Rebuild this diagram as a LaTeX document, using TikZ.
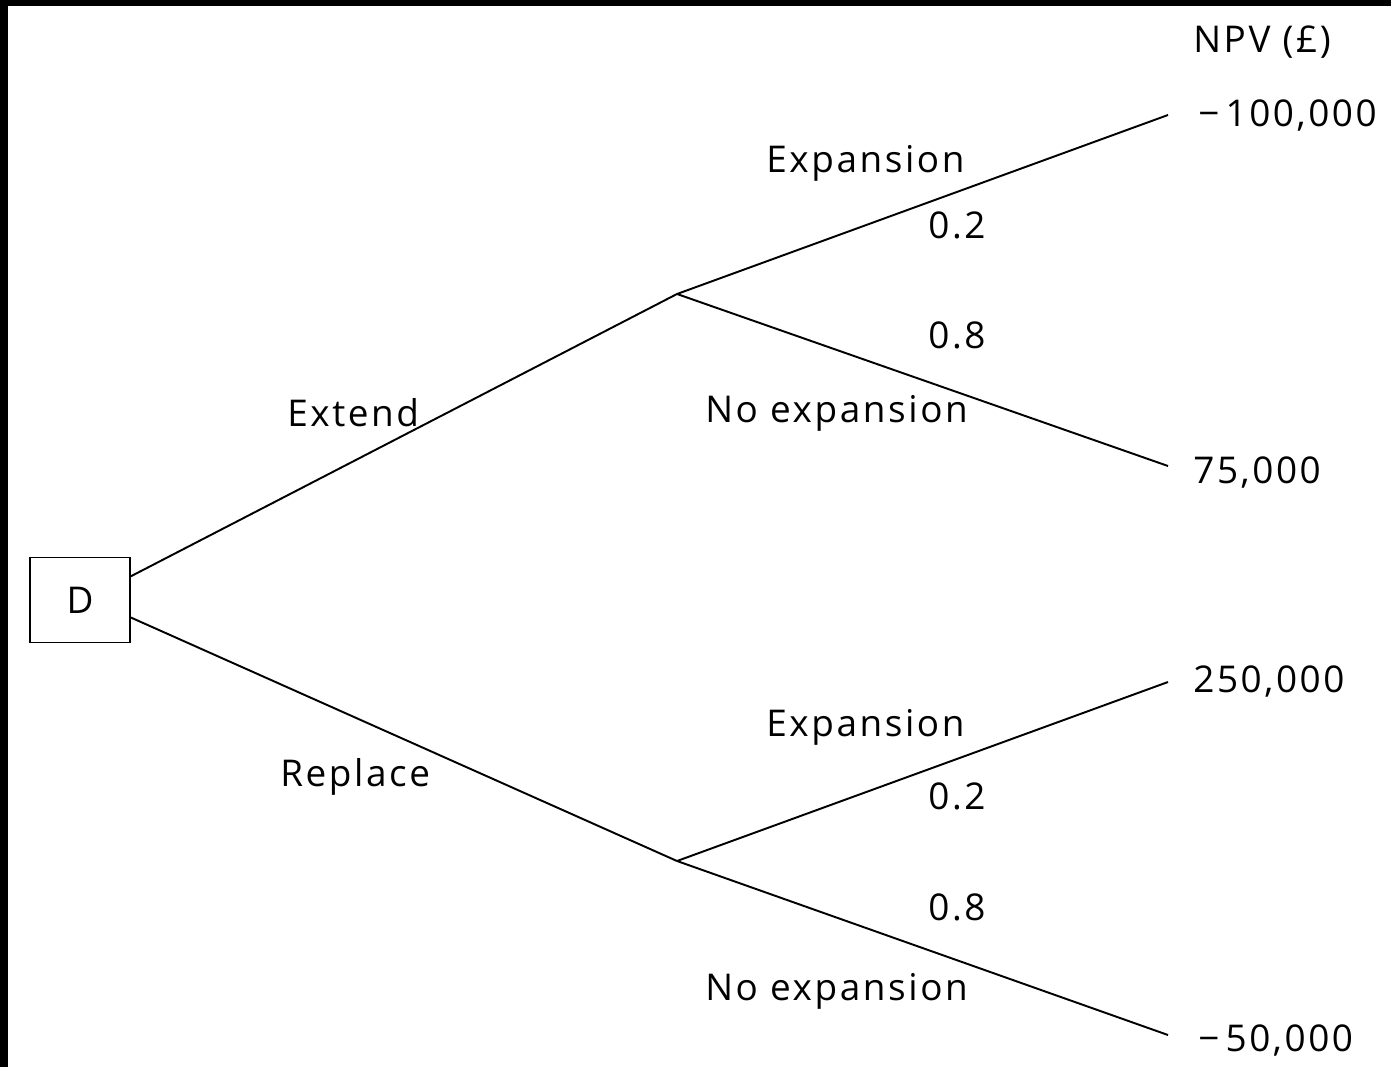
\documentclass[tikz,border=0pt]{standalone}
\usepackage{fontspec}
\setmainfont{Open Sans}[LetterSpace=7]
\usetikzlibrary{positioning}
\begin{document}
\begin{tikzpicture}[x=0.02cm,y=-0.02cm]
	\tikzset{decision/.style = {shape=rectangle,draw,line width=1.1pt,minimum width=2cm,minimum height=1.7cm,font=\fontsize{21}{25}\selectfont}}
	\tikzset{branch/.style = {line width=1.1pt}}
	\tikzset{lbl/.style = {anchor=base west,inner sep=0pt,font=\fontsize{21}{25}\selectfont}}
	\useasboundingbox (0,0) rectangle (1391,1067);
	\fill[black] (0,0) rectangle (1391,6);
	\fill[black] (0,0) rectangle (8,1067);
	% decision and chance points
	\node[decision] (d) at (80,600) {D};
	\coordinate (ext) at (677,294);
	\coordinate (rep) at (677,861);
	% end points
	\coordinate (e1) at (1168,115);
	\coordinate (e2) at (1168,466);
	\coordinate (e3) at (1168,682);
	\coordinate (e4) at (1168,1035);
	% branches
	\draw[branch] (d.25) -- (ext);
	\draw[branch] (d.-19) -- (rep);
	\draw[branch] (ext) -- (e1);
	\draw[branch] (ext) -- (e2);
	\draw[branch] (rep) -- (e3);
	\draw[branch] (rep) -- (e4);
	% labels
	\node[lbl] (extend) at (287,426) {Extend};
	\node[lbl] (replace) at (280,786) {Replace};
	\node[lbl] (exp1) at (766,173) {Expansion};
	\node[lbl] (p1) at (928,239) {0.2};
	\node[lbl] (q1) at (928,348) {0.8};
	\node[lbl] (noexp1) at (705,422) {No expansion};
	\node[lbl] (exp2) at (766,736) {Expansion};
	\node[lbl] (p2) at (928,809) {0.2};
	\node[lbl] (q2) at (928,920) {0.8};
	\node[lbl] (noexp2) at (705,1000) {No expansion};
	% values
	\node[lbl] (npv) at (1193,53) {NPV (£)};
	\node[lbl] (v1) at (1198,127) {−\,100,000};
	\node[lbl] (v2) at (1193,483) {75,000};
	\node[lbl] (v3) at (1193,692) {250,000};
	\node[lbl] (v4) at (1198,1051) {−\,50,000};
\end{tikzpicture}
\end{document}
